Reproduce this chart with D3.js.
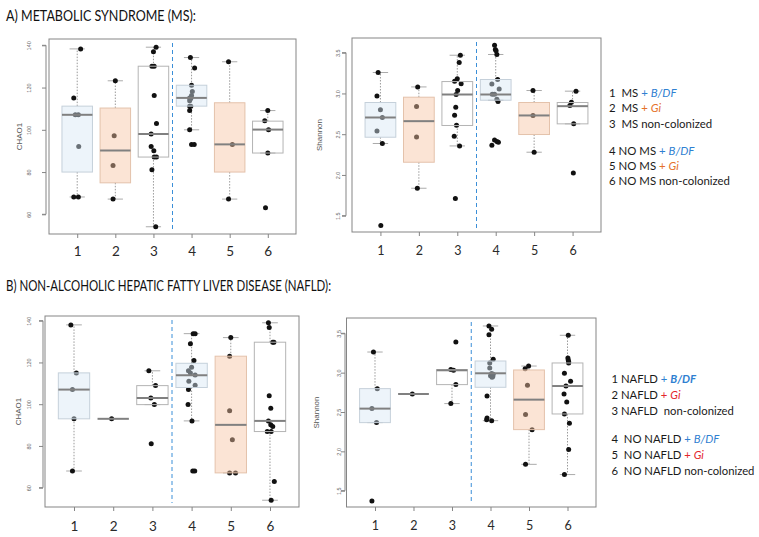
<!DOCTYPE html>
<html><head><meta charset="utf-8">
<script src="https://cdn.jsdelivr.net/npm/d3@7"></script>
<style>body{margin:0;background:#fff}</style>
</head><body>
<svg id="c" width="759" height="537" xmlns="http://www.w3.org/2000/svg"></svg>
<script>
// ---------------- DATA ----------------
const categories = ["1", "2", "3", "4", "5", "6"];
const chaoTicks = [60, 80, 100, 120, 140];
const chaoTickLabels = ["60", "80", "100", "120", "140"];
const shannonTicks = [1.5, 2.0, 2.5, 3.0, 3.5];
const shannonTickLabels = ["1.5", "2.0", "2.5", "3.0", "3.5"];

const titleA = "A) METABOLIC SYNDROME (MS):";
const titleB = "B) NON-ALCOHOLIC HEPATIC FATTY LIVER DISEASE (NAFLD):";

// box stats per group: [lower whisker, Q1, median, Q3, upper whisker]
const msChao1Box = [
  [68.2, 80.0, 107.1, 111.2, 138.3],
  [67.2, 74.9, 90.2, 110.3, 123.2],
  [54.1, 87.1, 98.0, 130.1, 139.1],
  [100.0, 111.2, 115.1, 121.1, 134.2],
  [67.2, 80.0, 93.1, 112.8, 132.2],
  [89.0, 89.0, 100.1, 104.1, 109.1]
];
const msChao1Points = [
  [1,138.3],[1,115.0],[1,107.1],[1,107.1],[1,92.1],[1,68.2],[1,68.2],
  [2,123.2],[2,97.2],[2,83.1],[2,67.2],
  [3,139.1],[3,137.0],[3,130.1],[3,130.1],[3,116.2],[3,103.0],[3,98.0],[3,92.1],[3,90.1],[3,87.1],[3,87.1],[3,81.1],[3,54.1],
  [4,134.2],[4,129.2],[4,121.1],[4,118.1],[4,116.2],[4,115.1],[4,114.8],[4,113.7],[4,111.2],[4,111.2],[4,109.1],[4,100.0],[4,93.1],[4,93.1],
  [5,132.2],[5,93.1],[5,67.2],
  [6,109.1],[6,104.3],[6,100.0],[6,89.0],[6,63.1]
];
const msChao1Jitter = [
  0.09,-0.09,-0.05,0.03,0.04,-0.09,0.03,
  0,-0.03,-0.06,-0.06,
  0.07,0,-0.04,0.02,0.02,0.08,-0.06,-0.06,0.01,0.02,0.08,-0.04,0.06,
  -0.03,0.08,0,0.02,0,-0.05,-0.02,-0.05,-0.05,-0.02,-0.05,-0.05,0,0.07,
  -0.03,0.07,-0.03,
  0,-0.08,0.02,0,-0.06
];

const msShannonBox = [
  [2.386, 2.463, 2.705, 2.889, 3.257],
  [1.837, 2.156, 2.66, 2.954, 3.08],
  [2.356, 2.607, 2.987, 3.146, 3.469],
  [2.917, 2.917, 2.987, 3.171, 3.478],
  [2.279, 2.496, 2.73, 2.889, 3.036],
  [2.627, 2.627, 2.844, 2.889, 3.028]
];
const msShannonPoints = [
  [1,3.257],[1,2.97],[1,2.80],[1,2.705],[1,2.54],[1,2.386],[1,1.38],
  [2,3.08],[2,2.84],[2,2.467],[2,1.837],
  [3,3.469],[3,3.38],[3,3.18],[3,3.15],[3,3.12],[3,3.036],[3,2.987],[3,2.83],[3,2.733],[3,2.61],[3,2.475],[3,2.356],[3,1.71],
  [4,3.59],[4,3.54],[4,3.525],[4,3.478],[4,3.171],[4,3.117],[4,3.056],[4,2.99],[4,2.99],[4,2.93],[4,2.90],[4,2.365],[4,2.43],[4,2.41],[4,2.40],
  [5,3.036],[5,2.73],[5,2.279],
  [6,3.028],[6,2.893],[6,2.852],[6,2.627],[6,2.025]
];
const msShannonJitter = [
  -0.06,-0.09,0,0.05,-0.09,0.05,0.01,
  -0.03,-0.06,-0.06,-0.04,
  0.08,0.05,0,-0.07,0.1,0.01,-0.03,-0.04,-0.07,-0.02,-0.08,0.06,-0.05,
  -0.03,-0.01,0.01,0.03,0.05,-0.1,0.09,-0.09,-0.03,0.03,0.06,-0.1,-0.03,0.03,0.07,
  -0.03,-0.03,0,
  0.09,-0.03,-0.07,0.03,0.02
];

const nafldChao1Box = [
  [68, 93, 107, 115, 138],
  [93, 93, 93, 93, 93],
  [99.8, 99.8, 103, 108.9, 116],
  [92, 108, 113.9, 119.6, 133.8],
  [67.1, 67.1, 90.1, 123, 131.9],
  [54, 86.9, 92, 129.7, 139]
];
const nafldChao1Points = [
  [1,138],[1,115],[1,107],[1,93],[1,68],
  [2,93],
  [3,116],[3,109],[3,103],[3,99.8],[3,81],
  [4,133.8],[4,133.8],[4,128.9],[4,120.9],[4,117.7],[4,116],[4,115],[4,114],[4,111],[4,109.1],[4,107],[4,99.8],[4,92],[4,68],[4,68],
  [5,131.9],[5,123],[5,96.9],[5,83],[5,67.1],[5,67.1],
  [6,139],[6,136.7],[6,129.7],[6,129.7],[6,104],[6,98.1],[6,92],[6,90.1],[6,89.3],[6,86.9],[6,86.9],[6,63],[6,54]
];
const nafldChao1Jitter = [
  -0.08,0.06,-0.04,0,-0.04,
  -0.04,
  -0.09,0.08,-0.04,0.05,-0.03,
  0.04,0.09,-0.03,0.06,0,-0.08,-0.03,0.09,-0.07,0.09,-0.08,-0.09,0.01,0.03,0.08,
  0,-0.03,-0.03,0.04,-0.03,0.12,
  -0.04,-0.02,0.07,0.1,-0.02,0.02,-0.04,0.02,0.07,-0.07,0.03,0.11,0.03
];

const nafldShannonBox = [
  [2.365, 2.365, 2.543, 2.797, 3.262],
  [2.729, 2.729, 2.729, 2.729, 2.729],
  [2.607, 2.848, 3.03, 3.039, 3.039],
  [2.39, 2.814, 2.992, 3.148, 3.593],
  [1.835, 2.276, 2.657, 3.034, 3.084],
  [1.705, 2.475, 2.83, 3.123, 3.475]
];
const nafldShannonPoints = [
  [1,3.262],[1,2.797],[1,2.543],[1,2.365],[1,1.369],
  [2,2.729],
  [3,3.389],[3,3.04],[3,3.03],[3,2.848],[3,2.607],
  [4,3.593],[4,3.551],[4,3.483],[4,3.17],[4,3.123],[4,3.059],[4,2.99],[4,2.98],[4,2.96],[4,2.95],[4,2.94],[4,2.703],[4,2.424],[4,2.403],[4,2.39],
  [5,3.084],[5,3.05],[5,2.839],[5,2.467],[5,2.276],[5,1.835],
  [6,3.475],[6,3.186],[6,3.161],[6,3.14],[6,3.123],[6,2.992],[6,2.89],[6,2.83],[6,2.729],[6,2.627],[6,2.475],[6,2.356],[6,2.022],[6,1.705]
];
const nafldShannonJitter = [
  -0.04,0.06,-0.08,0.04,-0.08,
  -0.03,
  0.1,-0.03,0.04,0.1,-0.03,
  -0.04,0.03,-0.04,0.07,-0.02,-0.02,0.03,0.07,0,0.06,0.04,-0.09,-0.09,-0.1,0.03,
  -0.01,-0.1,-0.04,-0.09,0.08,-0.09,
  0.02,0.01,0.02,0.03,0.03,-0.08,0.08,-0.04,-0.09,-0.02,-0.08,0.05,0.03,-0.08
];

// legends: arrays of segments [text, colorKey, style]
const legendMS = [
  [["1  MS ","k",""],["+ ","blue",""],["B/DF","blue","i"]],
  [["2  MS ","k",""],["+ ","orange",""],["Gi","orange","i"]],
  [["3  MS non-colonized","k",""]],
  [["4 NO MS ","k",""],["+ ","blue",""],["B/DF","blue","i"]],
  [["5 NO MS ","k",""],["+ ","orange",""],["Gi","orange","i"]],
  [["6 NO MS non-colonized","k",""]]
];
const legendNAFLD = [
  [["1 NAFLD ","k",""],["+ ","blue",""],["B/DF","blue","bi"]],
  [["2 NAFLD ","k",""],["+ ","red",""],["Gi","red","i"]],
  [["3 NAFLD  non-colonized","k",""]],
  [["4  NO NAFLD ","k",""],["+ ","blue",""],["B/DF","blue","i"]],
  [["5  NO NAFLD ","k",""],["+ ","red",""],["Gi","red","i"]],
  [["6  NO NAFLD non-colonized","k",""]]
];

// ---------------- DRAWING ----------------
const svg = d3.select("#c");
const FONT = "Lato, 'Open Sans', sans-serif";
const colorMap = {k:"#1a1a1a", blue:"#2f80d1", orange:"#e5712a", red:"#e3262b"};
const boxStyle = [
  {fill:"rgba(215,230,244,0.45)", stroke:"#c5d0da"},
  {fill:"rgba(246,196,162,0.45)", stroke:"#e4c2ab"},
  {fill:"none", stroke:"#b4b4b4"},
  {fill:"rgba(215,230,244,0.45)", stroke:"#c5d0da"},
  {fill:"rgba(246,196,162,0.45)", stroke:"#e4c2ab"},
  {fill:"none", stroke:"#b4b4b4"}
];

const panels = [
  {box:msChao1Box, pts:msChao1Points, jit:msChao1Jitter, ticks:chaoTicks, tl:chaoTickLabels, ylab:"CHAO1",
   L:49, R:296, T:39, B:234, dom:[60,140], rng:[214.3,45.3], axisX:46, tlX:31, ylabX:19, xLabY:255.5, xLabSize:13.5},
  {box:msShannonBox, pts:msShannonPoints, jit:msShannonJitter, ticks:shannonTicks, tl:shannonTickLabels, ylab:"Shannon",
   L:352, R:601, T:38, B:232, dom:[1.5,3.5], rng:[215.7,52.7], axisX:346, tlX:340, ylabX:319, xLabY:255, xLabSize:12.5},
  {box:nafldChao1Box, pts:nafldChao1Points, jit:nafldChao1Jitter, ticks:chaoTicks, tl:chaoTickLabels, ylab:"CHAO1",
   L:45, R:299, T:316, B:507, dom:[60,140], rng:[487.7,320.7], axisX:43, tlX:31, ylabX:18, xLabY:530.5, xLabSize:13.5},
  {box:nafldShannonBox, pts:nafldShannonPoints, jit:nafldShannonJitter, ticks:shannonTicks, tl:shannonTickLabels, ylab:"Shannon",
   L:346.5, R:596, T:318, B:507, dom:[1.5,3.5], rng:[490.7,333.3], axisX:345, tlX:341, ylabX:316, xLabY:529.5, xLabSize:12.5}
];

panels.forEach(p => {
  const g = svg.append("g");
  const x = d3.scaleLinear().domain([0.26, 6.74]).range([p.L, p.R]);
  const y = d3.scaleLinear().domain(p.dom).range(p.rng);
  const bw = 0.4, cw = 0.2;

  g.append("rect").attr("x", p.L).attr("y", p.T).attr("width", p.R - p.L).attr("height", p.B - p.T)
    .attr("fill", "none").attr("stroke", "#858585").attr("stroke-width", 1);

  const yAxis = d3.axisLeft(y).tickValues(p.ticks).tickSize(4).tickFormat((d, i) => p.tl[i]);
  const ya = g.append("g").attr("transform", `translate(${p.axisX},0)`).call(yAxis);
  ya.select(".domain").attr("stroke", "#858585").attr("d", `M-4,${y(p.ticks[0])}H0V${y(p.ticks[p.ticks.length-1])}H-4`);
  ya.selectAll(".tick line").attr("stroke", "#858585");
  ya.selectAll(".tick text").attr("x", null).attr("dy", null)
    .attr("transform", `translate(${p.tlX - p.axisX},0) rotate(-90)`)
    .attr("text-anchor", "middle").attr("font-size", 5.5).attr("fill", "#666")
    .attr("font-family", "'Liberation Sans', Arial, sans-serif");

  const xAxis = d3.axisBottom(x).tickValues(d3.range(1, 7)).tickSize(4).tickFormat((d, i) => categories[i]);
  const xa = g.append("g").attr("transform", `translate(0,${p.B})`).call(xAxis);
  xa.select(".domain").remove();
  xa.selectAll(".tick line").attr("stroke", "#858585");
  xa.selectAll(".tick text").attr("y", p.xLabY - p.B).attr("dy", null)
    .attr("font-size", p.xLabSize).attr("fill", "#2a2a2a").attr("font-family", FONT);

  g.append("text").attr("transform", `translate(${p.ylabX},${(p.T + p.B) / 2}) rotate(-90)`)
    .attr("text-anchor", "middle").attr("dy", "0.35em").attr("font-size", 8).attr("fill", "#555")
    .attr("font-family", "'Liberation Sans', Arial, sans-serif").text(p.ylab);

  g.append("line").attr("x1", x(3.5)).attr("x2", x(3.5)).attr("y1", p.T + 4).attr("y2", p.B - 4)
    .attr("stroke", "#3b8fd8").attr("stroke-width", 1).attr("stroke-dasharray", "4,3");

  const groups = p.box.map((s, i) => ({i, c: i + 1, s}));

  groups.forEach(d => {
    const [lo, q1, md, q3, hi] = d.s;
    if (hi > q3) g.append("line").attr("x1", x(d.c)).attr("x2", x(d.c)).attr("y1", y(q3)).attr("y2", y(hi))
      .attr("stroke", "#9a9a9a").attr("stroke-dasharray", "1.5,1.5");
    if (lo < q1) g.append("line").attr("x1", x(d.c)).attr("x2", x(d.c)).attr("y1", y(q1)).attr("y2", y(lo))
      .attr("stroke", "#9a9a9a").attr("stroke-dasharray", "1.5,1.5");
    [lo, hi].forEach(v => {
      if (d.s[0] === d.s[4]) return;
      g.append("line").attr("x1", x(d.c - cw)).attr("x2", x(d.c + cw)).attr("y1", y(v)).attr("y2", y(v))
        .attr("stroke", "#ababab").attr("stroke-width", 1);
    });
  });

  g.selectAll("circle.pt").data(p.pts).join("circle").attr("class", "pt")
    .attr("cx", (d, i) => x(d[0] + p.jit[i])).attr("cy", d => y(d[1])).attr("r", 2.5).attr("fill", "#111");

  groups.forEach(d => {
    const [lo, q1, md, q3, hi] = d.s;
    const st = boxStyle[d.i];
    if (q3 > q1) {
      g.append("rect").attr("x", x(d.c - bw)).attr("width", x(d.c + bw) - x(d.c - bw))
        .attr("y", y(q3)).attr("height", y(q1) - y(q3))
        .attr("fill", st.fill).attr("stroke", st.stroke).attr("stroke-width", 1);
    }
    g.append("line").attr("x1", x(d.c - bw)).attr("x2", x(d.c + bw)).attr("y1", y(md)).attr("y2", y(md))
      .attr("stroke", "#808080").attr("stroke-width", 2);
  });
});

// titles: natural size, squeezed to the reference width
function squeeze(sel, target) {
  const w = sel.node().getComputedTextLength();
  if (w > target) sel.attr("textLength", target).attr("lengthAdjust", "spacingAndGlyphs");
}
const tA = svg.append("text").attr("x", 6).attr("y", 20.5).attr("font-size", 14.5).attr("font-family", FONT)
  .attr("fill", "#111").text(titleA);
squeeze(tA, 190);
const tB = svg.append("text").attr("x", 6).attr("y", 291).attr("font-size", 14.5).attr("font-family", FONT)
  .attr("fill", "#111").text(titleB);
squeeze(tB, 325);

function drawLegend(lines, x0, baselines, refIdx, refWidth) {
  const fs0 = 13;
  const texts = lines.map((segs, li) => {
    const t = svg.append("text").attr("x", x0).attr("y", baselines[li]).attr("font-size", fs0)
      .attr("font-family", FONT).attr("fill", colorMap.k).attr("xml:space", "preserve").style("white-space", "pre");
    segs.forEach(([txt, ck, st]) => {
      t.append("tspan").attr("fill", colorMap[ck])
        .attr("font-style", st.includes("i") ? "italic" : "normal")
        .attr("font-weight", st.includes("b") ? "bold" : "normal").text(txt);
    });
    return t;
  });
  const fs = fs0 * refWidth / texts[refIdx].node().getComputedTextLength();
  texts.forEach(t => t.attr("font-size", fs.toFixed(2)));
}
drawLegend(legendMS, 609, [96.5, 112, 127.5, 155, 170, 185], 5, 121);
drawLegend(legendNAFLD, 611.5, [383, 399, 415, 443, 458.5, 474.5], 5, 143);
</script>
</body></html>
